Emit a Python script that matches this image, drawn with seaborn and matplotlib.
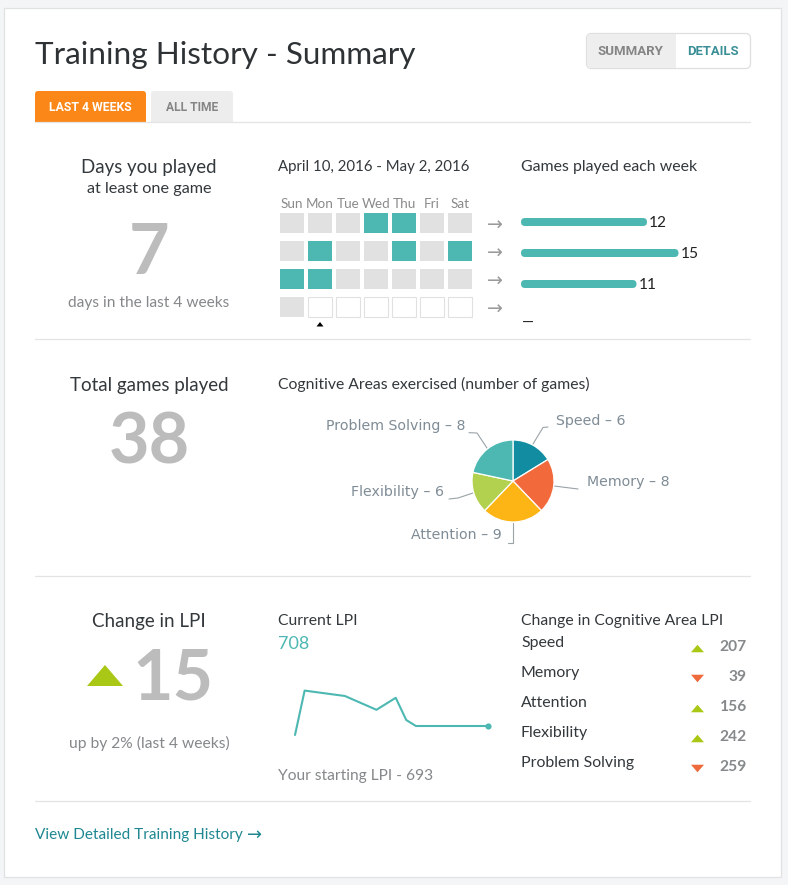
import numpy as np
import pandas as pd
import matplotlib
matplotlib.use("Agg")
import matplotlib.pyplot as plt
from matplotlib.colors import ListedColormap
from matplotlib.patches import FancyBboxPatch, Rectangle
import seaborn as sns

# ---------- data ----------
days = ["Sun", "Mon", "Tue", "Wed", "Thu", "Fri", "Sat"]
# 0 = not played, 1 = played, 2 = still to come
week1 = [0, 0, 0, 1, 1, 0, 0]
week2 = [0, 1, 0, 0, 1, 0, 1]
week3 = [1, 1, 0, 0, 0, 0, 0]
week4 = [0, 2, 2, 2, 2, 2, 2]
games_per_week = [12, 15, 11, 0]
week_names = ["w1", "w2", "w3", "w4"]
week_labels = ["12", "15", "11", "—"]
areas = ["Speed", "Memory", "Attention", "Flexibility", "Problem Solving"]
area_games = [6, 8, 9, 6, 8]
area_lpi = [207, 39, 156, 242, 259]
area_dir = [1, -1, 1, 1, -1]
lpi_day = [0, 1.1, 5.7, 9.3, 11.5, 12.7, 13.8, 22]
lpi_val = [693, 767, 758, 735, 755, 718, 708, 708]

W, H = 788, 885
sns.set_theme(style="white")
FONT = ["Lato", "DejaVu Sans"]
NARROW = ["Liberation Sans Narrow", "Roboto", "DejaVu Sans"]
plt.rcParams["font.family"] = FONT

TEAL = "#4DB8B2"; DARK = "#33383C"; GREY = "#85888A"; BIG = "#BCBCBC"
LINE = "#E2E4E5"; LINK = "#1F8791"; UP = "#A9C715"; DOWN = "#EE6A3C"
PIE_COL = ["#118CA0", "#F2693B", "#FDB515", "#B2D14F", "#4DB8B2"]
LBL = "#7F8C96"

fig = plt.figure(figsize=(W / 100, H / 100), dpi=100, facecolor="#F4F5F6")


def px_axes(l, t, r, b, **kw):
    return fig.add_axes([l / W, 1 - b / H, (r - l) / W, (b - t) / H], **kw)


bg = px_axes(0, 0, W, H)
bg.set_xlim(0, W); bg.set_ylim(H, 0); bg.axis("off")


def txt(x, y, s, px, color=DARK, ha="left", **kw):
    bg.text(x, y + 1, s, fontsize=px * 0.72, color=color, ha=ha, va="center", **kw)


def rrect(x0, y0, x1, y1, r=3, **kw):
    bg.add_patch(FancyBboxPatch((x0, y0), x1 - x0, y1 - y0,
                                boxstyle=f"round,pad=0,rounding_size={r}", **kw))


# card
bg.add_patch(Rectangle((4.5, 7.5), 777, 869, fc="white", ec="#DFE1E3", lw=0.9))
for y in (338.5, 575.5, 800.5):
    bg.plot([35, 750.5], [y, y], color=LINE, lw=0.9)

# header
txt(35, 54, "Training History - Summary", 31.5, "#2E3235")
rrect(35, 91, 146, 130, fc="#FC8719", ec="none")
rrect(151, 91, 233, 130, fc="#EDEDED", ec="none")
bg.add_patch(Rectangle((30, 122), 210, 10, fc="white", ec="none"))
bg.plot([35, 750.5], [122, 122], color=LINE, lw=0.9)
txt(90.5, 106.5, "LAST 4 WEEKS", 12.3, "white", ha="center", family=NARROW, weight="bold")
txt(192, 106.5, "ALL TIME", 12, "#858585", ha="center", family=NARROW, weight="bold")
rrect(586.5, 33.5, 750.5, 68.5, r=5, fc="white", ec="#DDDFE0", lw=0.9)
bg.add_patch(FancyBboxPatch((587, 34), 88.5, 34, boxstyle="round,pad=0,rounding_size=4",
                            fc="#EEEEEE", ec="none"))
bg.add_patch(Rectangle((670, 34), 6, 34, fc="#EEEEEE", ec="none"))
txt(630.5, 50.5, "SUMMARY", 13.3, "#858585", ha="center", family=NARROW, weight="bold")
txt(712.5, 50.5, "DETAILS", 13, "#3A8F96", ha="center", family=NARROW, weight="bold")

# left column
CX = 149
txt(CX, 167, "Days you played", 18.6, ha="center")
txt(CX, 188, "at least one game", 16.2, ha="center")
txt(CX, 252, str(sum(map(sum, [[v == 1 for v in w] for w in (week1, week2, week3, week4)]))),
    70, BIG, ha="center", weight="bold")
txt(CX, 302, "days in the last 4 weeks", 15.5, GREY, ha="center")
txt(CX, 384, "Total games played", 18.8, ha="center")
txt(CX, 442, str(sum(games_per_week)), 70, BIG, ha="center", weight="bold")
txt(CX, 621, "Change in LPI", 18.8, ha="center")
bg.fill([87, 123, 105], [686, 686, 665], color=UP, lw=0)
txt(173, 678, "15", 70, BIG, ha="center", weight="bold")
txt(CX, 742, "up by 2% (last 4 weeks)", 15.6, GREY, ha="center")

# calendar heatmap
txt(278, 166, "April 10, 2016 - May 2, 2016", 15)
cal = px_axes(278, 209, 474, 321)
frame = pd.DataFrame([week1, week2, week3, week4], columns=days)
sns.heatmap(frame, ax=cal, cmap=ListedColormap(["#E1E1E1", TEAL, "#FFFFFF"]), vmin=0, vmax=2,
            cbar=False, linewidths=0, xticklabels=True, yticklabels=False)
cal.xaxis.tick_top()
cal.tick_params(axis="x", length=0, pad=-1, labelsize=13.5 * 0.72, labelcolor="#8A8A8A", rotation=0)
for r, row in enumerate(frame.values):
    for c, v in enumerate(row):
        if v == 2:
            cal.add_patch(Rectangle((c + 2 / 28, r + 4 / 28), 24 / 28, 20 / 28, fc="none",
                                    ec="#E1E1E1", lw=0.8, zorder=5))
for c in range(8):
    cal.axvline(c, color="white", lw=4 * 0.72, zorder=3)
for r in range(5):
    cal.axhline(r, color="white", lw=8 * 0.72, zorder=3)
cal.set_xlabel(""); cal.set_ylabel("")
for s in cal.spines.values():
    s.set_visible(False)
bg.fill([316.5, 323.5, 320], [326.5, 326.5, 322], color="black", lw=0)
for i in range(len(week_names)):
    txt(495, 224.5 + 28 * i, "→", 19, "#9A9A9A", ha="center", family="DejaVu Sans")

# weekly bars
txt(521, 166, "Games played each week", 15.9)
barax = px_axes(521, 206.5, 731, 330.5)
barax.patch.set_alpha(0)
week_df = pd.DataFrame({"week": week_names, "games": games_per_week})
sns.barplot(data=week_df, x="games", y="week", orient="y", ax=barax, color=TEAL,
            saturation=1, width=8 / 31)
barax.set_xlim(0, 20)
for p in list(barax.patches):
    x, y, w, h = p.get_x(), p.get_y(), p.get_width(), p.get_height()
    p.set_visible(False)
    if w > 0:
        barax.add_patch(FancyBboxPatch((x, y), w, h,
                                       boxstyle="round,pad=0,rounding_size=0.38",
                                       mutation_aspect=10.5 / 31, fc=TEAL, ec="none"))
barax.axis("off")
for i, (v, s) in enumerate(zip(games_per_week, week_labels)):
    if v:
        barax.text(v + 0.2, i + 0.03, s, fontsize=15.5 * 0.72, color="#222222", va="center")
txt(528, 322, week_labels[3], 15, "#222222", ha="center")

# pie
txt(278, 383, "Cognitive Areas exercised (number of games)", 15.8)
pie = px_axes(513 - 43, 481 - 43, 513 + 43, 481 + 43)
pie.pie(area_games, colors=PIE_COL, startangle=90, counterclock=False, radius=41 / 43,
        wedgeprops=dict(edgecolor="white", linewidth=0.9))
pie.set_xlim(-1, 1); pie.set_ylim(-1, 1)
pie_pos = [(556, 420, [533, 543, 548], [444, 427.5, 427]),
           (587, 481, [554, 578], [486, 489]),
           (411, 534, [513.5, 513.5, 508], [523, 542.7, 542.7]),
           (351, 491, [473, 458, 449], [493, 498, 499]),
           (326, 425, [487, 477, 469], [448, 433, 432.7])]
for name, n, (tx, ty, lx, ly) in zip(areas, area_games, pie_pos):
    bg.plot(lx, ly, color="#9AA3A8", lw=0.8)
    txt(tx, ty - 0.2, f"{name} – {n}", 14.1, LBL, family="DejaVu Sans")

# LPI line
txt(278, 620, "Current LPI", 15.7)
txt(278, 643, str(lpi_val[-1]), 18, TEAL)
lineax = px_axes(295, 680, 487.7, 735)
lineax.patch.set_alpha(0)
lpi_df = pd.DataFrame({"day": lpi_day, "lpi": lpi_val})
sns.lineplot(data=lpi_df, x="day", y="lpi", ax=lineax, color=TEAL, lw=1.5)
lineax.scatter(lpi_day[-1:], lpi_val[-1:], s=20, color=TEAL, clip_on=False, lw=0, zorder=4)
lineax.set_xlim(0, 22); lineax.set_ylim(693, 693 + 55 / 0.6)
lineax.axis("off")
for l in lineax.lines:
    l.set_clip_on(False)
txt(278, 775, f"Your starting LPI - {lpi_val[0]}", 15.5, GREY)

# area LPI
txt(521, 620, "Change in Cognitive Area LPI", 15.7)
TRI_UP = [(-1, 0.58), (1, 0.58), (0, -0.58)]
TRI_DOWN = [(-1, -0.58), (1, -0.58), (0, 0.58)]
for i, (name, v, d) in enumerate(zip(areas, area_lpi, area_dir)):
    txt(521, 642 + 30 * i, name, 15.9)
    bg.scatter([697], [648 + 30 * i], marker=TRI_DOWN if d > 0 else TRI_UP, s=88,
               color=UP if d > 0 else DOWN, lw=0)
    txt(747, 646 + 30 * i, str(v), 15.5, "#86898B", ha="right", weight="bold")

# footer
txt(35, 834, "View Detailed Training History", 15.4, LINK)
txt(254.5, 834, "→", 18, LINK, ha="center", family="DejaVu Sans")

fig.savefig("out.png", dpi=100, facecolor=fig.get_facecolor())
